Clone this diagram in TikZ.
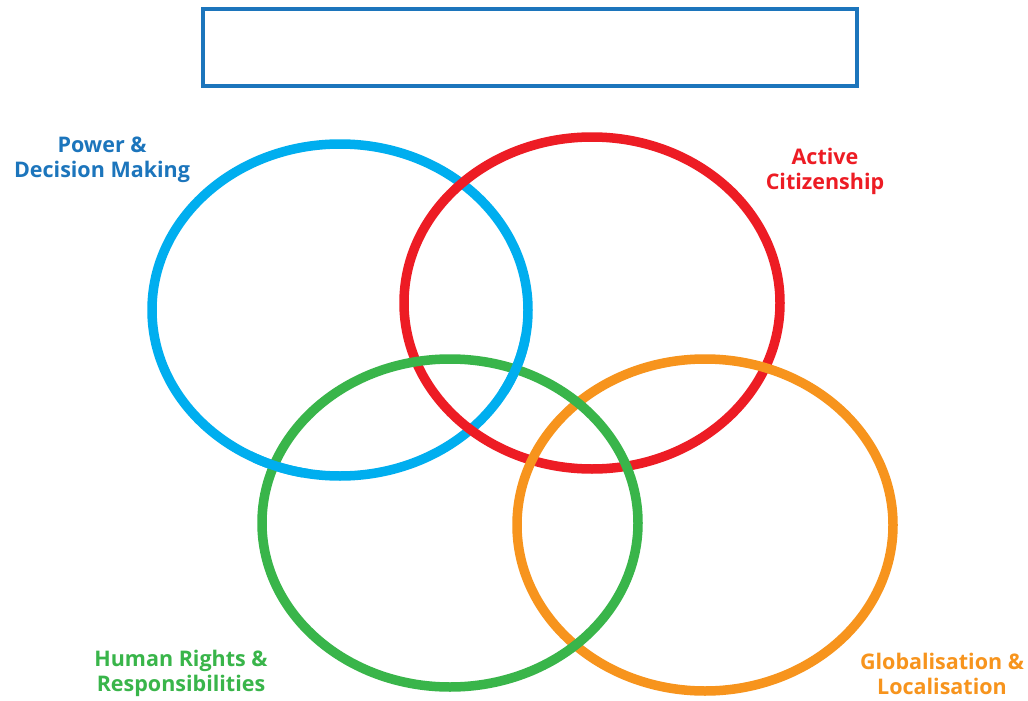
\documentclass[tikz,border=0pt]{standalone}
\usepackage{fontspec}
\setmainfont{Open Sans}
\definecolor{cblue}{HTML}{00AEEF}
\definecolor{cred}{HTML}{ED1C24}
\definecolor{cgreen}{HTML}{39B54A}
\definecolor{corange}{HTML}{F7941D}
\definecolor{tblue}{HTML}{1C75BC}
\tikzset{
  ring/.style={line width=9.5pt},
  lab/.style={align=center, font=\fontsize{21.5}{25}\selectfont\bfseries, inner sep=0pt},
  titlebox/.style={draw=tblue, line width=3.5pt}
}
\begin{document}
\begin{tikzpicture}[x=1pt,y=-1pt]
\path[use as bounding box, fill=white] (0,0) rectangle (1028,701);
\draw[titlebox] (203,9) rectangle (857,86);
% rings
\draw[ring, cblue] (340,310) ellipse [x radius=188, y radius=166];
\draw[ring, cred] (592,303) ellipse [x radius=188, y radius=166];
\draw[ring, corange] (705,525) ellipse [x radius=188, y radius=166];
\draw[ring, cgreen] (450,523) ellipse [x radius=188, y radius=164];
\begin{scope}
\clip (515,365) circle [radius=30] (282,455) circle [radius=30];
\draw[ring, cblue] (340,310) ellipse [x radius=188, y radius=166];
\end{scope}
% labels
\node[lab, text=tblue] (power) at (102,159.5) {Power \&\\Decision Making};
\node[lab, text=cred] (active) at (825,171.5) {Active\\Citizenship};
\node[lab, text=cgreen] (human) at (181,673.5) {Human Rights \&\\Responsibilities};
\node[lab, text=corange] (glob) at (942,673.5) {Globalisation \&\\Localisation};
\end{tikzpicture}
\end{document}
